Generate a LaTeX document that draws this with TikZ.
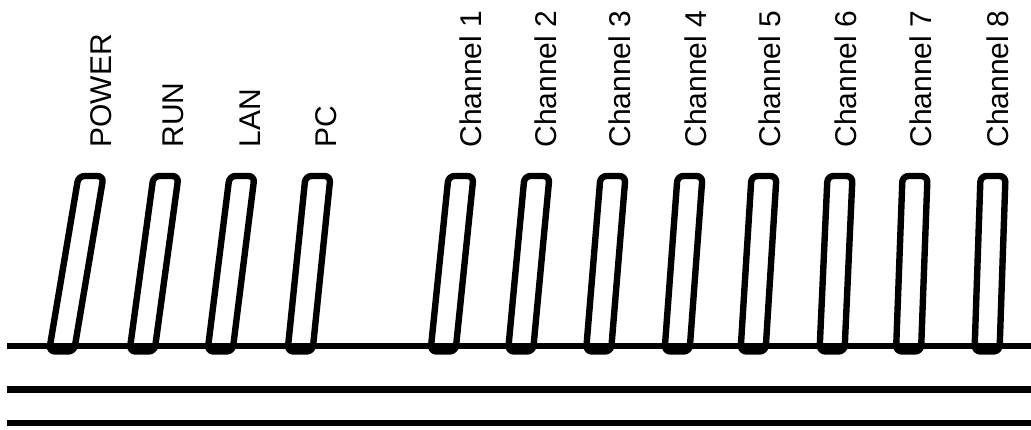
\documentclass[tikz,border=0pt]{standalone}
\usepackage{fontspec}
\setmainfont{Liberation Sans}
\begin{document}
\begin{tikzpicture}[x=0.5pt,y=-0.5pt,line join=round]
\tikzset{
  ledbox/.style={line width=3.2pt,rounded corners=3pt},
  rail/.style={line width=3.4pt},
  tag/.style={rotate=90,anchor=base west,inner sep=0pt,font=\fontsize{15pt}{15pt}\selectfont}
}
\useasboundingbox (0,0) rectangle (1031,429);

% panel edges
\draw[line width=2.6pt] (7,346) -- (1031,346);
\draw[rail] (7,389.5) -- (1031,389.5);
\draw[rail] (7,423) -- (1031,423);

\def\led#1#2#3#4#5{
\draw[ledbox] ({#1-12.5},176) -- ({#1+12.5},176) -- ({#2+12.5},351.5) -- ({#2-12.5},351.5) -- cycle;
\node[tag] (#5) at (#3,148) {#4};
}

\foreach \t/\b/\l/\txt/\n in {
  91/61.5/111/POWER/power,
  166/142/183/RUN/run,
  242/220/260/LAN/lan,
  318/300/336/PC/pc,
  461/443/481/Channel 1/ch1,
  537/520.5/556/Channel 2/ch2,
  613/598.5/630/Channel 3/ch3,
  690/677/706/Channel 4/ch4,
  764/753/780/Channel 5/ch5,
  840/832/856/Channel 6/ch6,
  915/908.5/931/Channel 7/ch7,
  993/987/1008/Channel 8/ch8}
  {\led{\t}{\b}{\l}{\txt}{\n}}

\end{tikzpicture}
\end{document}
